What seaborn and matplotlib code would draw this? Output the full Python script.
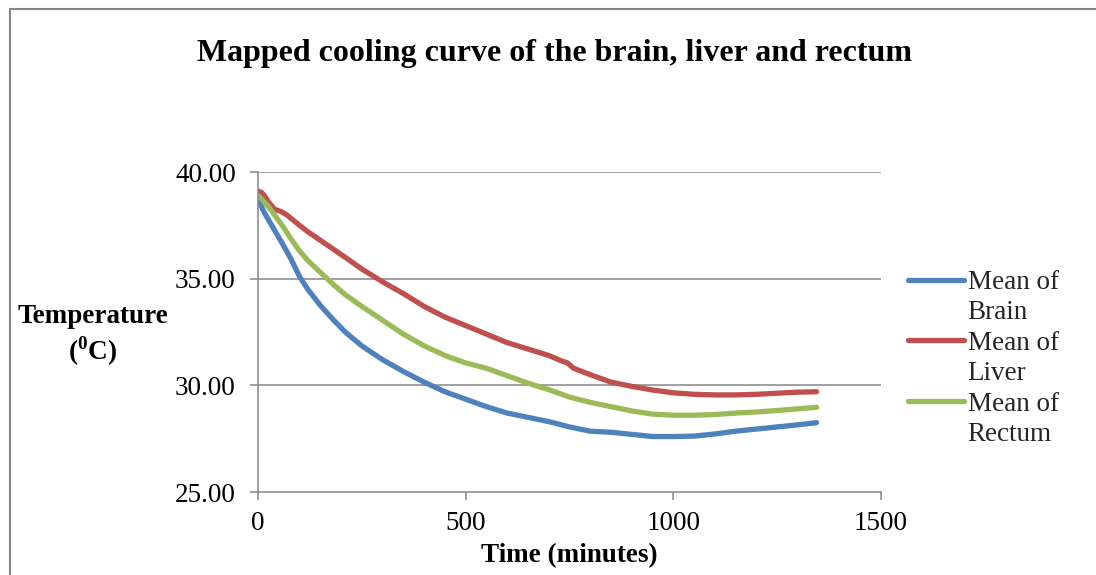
import matplotlib
matplotlib.use("Agg")
import matplotlib.pyplot as plt
import seaborn as sns
import pandas as pd
from matplotlib.lines import Line2D

# ---- data ----
brain_time = [0, 15, 30, 45, 60, 80, 100, 120, 150, 180, 210, 250, 300, 350, 400, 450,
              500, 550, 600, 650, 700, 750, 800, 850, 900, 950, 1000, 1050, 1100, 1150,
              1200, 1250, 1300, 1345]
brain_temp = [38.75, 38.1, 37.6, 37.1, 36.6, 35.9, 35.1, 34.5, 33.75, 33.1, 32.5,
              31.85, 31.2, 30.65, 30.15, 29.7, 29.35, 29.0, 28.7, 28.5, 28.3, 28.05, 27.85,
              27.8, 27.7, 27.6, 27.6, 27.62, 27.72, 27.85, 27.95, 28.05, 28.15, 28.25]

rectum_time = [0, 15, 30, 45, 60, 80, 100, 120, 150, 180, 210, 250, 300, 350, 400, 450, 500,
               550, 600, 650, 700, 750, 800, 850, 900, 950, 1000, 1050, 1100, 1150, 1200,
               1250, 1300, 1345]
rectum_temp = [38.9, 38.6, 38.25, 37.85, 37.45, 36.85, 36.3, 35.85, 35.3, 34.75, 34.25, 33.7,
               33.05, 32.4, 31.85, 31.4, 31.05, 30.8, 30.45, 30.1, 29.8, 29.45, 29.2, 29.0,
               28.8, 28.65, 28.6, 28.6, 28.63, 28.7, 28.75, 28.82, 28.9, 28.97]

liver_time = [0, 8, 15, 25, 40, 55, 70, 100, 120, 150, 180, 210, 250, 300, 350, 400, 450,
              500, 550, 600, 650, 700, 730, 745, 760, 800, 850, 900, 950, 1000, 1050, 1100,
              1150, 1200, 1250, 1300, 1345]
liver_temp = [39.1, 39.05, 38.9, 38.6, 38.25, 38.15, 37.98, 37.5, 37.2, 36.8, 36.4, 36.0,
              35.45, 34.85, 34.3, 33.7, 33.2, 32.8, 32.4, 32.0, 31.7, 31.4, 31.15, 31.05,
              30.8, 30.5, 30.15, 29.95, 29.78, 29.65, 29.58, 29.55, 29.55, 29.58, 29.63,
              29.68, 29.7]

series_names = ["Brain", "Liver", "Rectum"]
series_colors = ["#4F81BD", "#C0504D", "#9BBB59"]
x_ticks = [0, 500, 1000, 1500]
y_ticks = [25, 30, 35, 40]

df = pd.concat([
    pd.DataFrame({"Time": brain_time, "Temp": brain_temp, "Series": "Brain"}),
    pd.DataFrame({"Time": liver_time, "Temp": liver_temp, "Series": "Liver"}),
    pd.DataFrame({"Time": rectum_time, "Temp": rectum_temp, "Series": "Rectum"}),
], ignore_index=True)

sns.set_theme(style="white")
plt.rcParams["font.family"] = ["Liberation Serif", "DejaVu Serif"]
plt.rcParams["mathtext.fontset"] = "custom"
plt.rcParams["mathtext.rm"] = "Liberation Serif"
plt.rcParams["mathtext.bf"] = "Liberation Serif:bold"

FS = 19.5

fig = plt.figure(figsize=(10.96, 5.75), dpi=100)
fig.patch.set_facecolor("white")
ax = fig.add_axes([258 / 1096, 1 - 492 / 575, 623 / 1096, 320 / 575])

gray = "#868686"
for yv in [30, 35, 40]:
    ax.axhline(yv, color=gray, lw=1.1, zorder=0)

sns.lineplot(data=df, x="Time", y="Temp", hue="Series", hue_order=series_names,
             palette=dict(zip(series_names, series_colors)), sort=False,
             estimator=None, lw=3.8, legend=False, ax=ax)
for ln in ax.lines:
    ln.set_solid_capstyle("round")
    ln.set_solid_joinstyle("round")

ax.set_xlim(0, 1500)
ax.set_ylim(25, 40)
ax.set_xticks(x_ticks)
ax.set_xticklabels([str(v) for v in x_ticks])
ax.set_yticks(y_ticks)
ax.set_yticklabels([f"{v:.2f}" for v in y_ticks])
ax.set_facecolor("none")
for s in ["top", "right"]:
    ax.spines[s].set_visible(False)
for s in ["left", "bottom"]:
    ax.spines[s].set_color(gray)
    ax.spines[s].set_linewidth(1.1)
ax.tick_params(axis="both", which="major", direction="out", length=5.5, width=1.1,
               color=gray, labelsize=FS, labelcolor="black")
ax.tick_params(axis="y", pad=10.5)
ax.tick_params(axis="x", pad=8.5)
ax.tick_params(left=True, bottom=True)

ax.set_xlabel("Time (minutes)", fontsize=FS, fontweight="bold", color="black", va="center")
ax.xaxis.set_label_coords(0.5, (492 - 556) / 320)
ax.set_ylabel("Temperature\n($^{\\mathbf{0}}$C)", fontsize=FS, fontweight="bold",
              color="black", rotation=0, ha="center", va="center", multialignment="center")
ax.yaxis.set_label_coords((92.5 - 258) / 623, (492 - 336) / 320)

fig.text(554.5 / 1096, 1 - 53 / 575, "Mapped cooling curve of the brain, liver and rectum",
         ha="center", va="center", fontsize=23, fontweight="bold", color="black")

blank = Line2D([], [], color="none")
handles, labels = [], []
for ln, name in zip(ax.lines[-3:], series_names):
    handles += [ln, blank]
    labels += ["Mean of", name]
fig.legend(handles, labels, loc="upper left", bbox_to_anchor=(908 / 1096, 1 - 270 / 575),
           frameon=False, fontsize=FS, borderpad=0, labelspacing=0.2,
           handlelength=2.05, handletextpad=0.15, borderaxespad=0)

# outer chart border (cropped at right and bottom in the reference)
fig.add_artist(Line2D([10 / 1096, 10 / 1096], [0, 1 - 9 / 575], transform=fig.transFigure,
                      color=gray, lw=1.5))
fig.add_artist(Line2D([10 / 1096, 1], [1 - 9 / 575, 1 - 9 / 575], transform=fig.transFigure,
                      color=gray, lw=1.5))

fig.savefig("out.png", dpi=100, facecolor="white")
